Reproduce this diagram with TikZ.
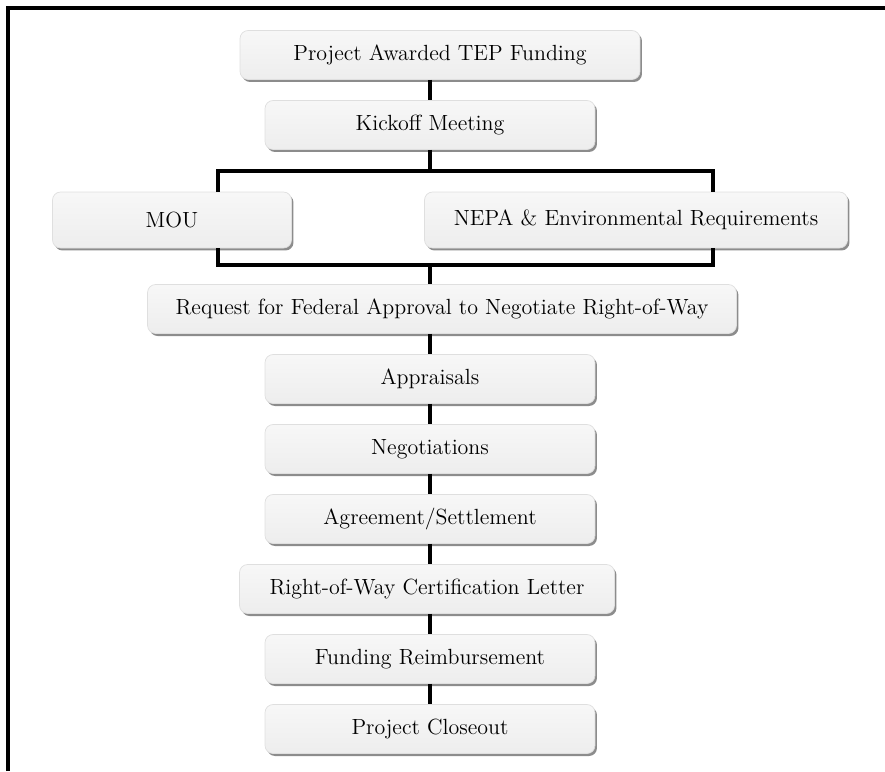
\documentclass[tikz,border=0pt]{standalone}
\usepackage{amsmath}
\usetikzlibrary{shadows}

\tikzset{
  stage/.style={rounded corners=0.16cm, draw=gray!25, line width=0.4pt,
    top color=gray!6, bottom color=gray!14,
    drop shadow={shadow xshift=0.04cm, shadow yshift=-0.05cm, fill=black!45, opacity=1},
    minimum height=0.98cm, inner sep=2pt, font=\fontsize{12.5}{14}\selectfont},
  link/.style={line width=0.065cm}
}

\begin{document}
\begin{tikzpicture}[x=0.02cm,y=-0.02cm]
    \useasboundingbox (0,0) rectangle (885,771);
    \draw[line width=0.08cm] (8,771) -- (8,8) -- (885,8);

    \node[stage, minimum width=8cm] (award) at (440,55) {Project Awarded TEP Funding};
    \node[stage, minimum width=6.6cm] (kick) at (430,125) {Kickoff Meeting};
    \node[stage, minimum width=4.78cm, minimum height=1.12cm] (mou) at (172,220) {MOU};
    \node[stage, minimum width=8.46cm, minimum height=1.12cm] (nepa) at (636,220) {NEPA \& Environmental Requirements};
    \node[stage, minimum width=11.78cm] (req) at (442,309) {Request for Federal Approval to Negotiate Right-of-Way};
    \node[stage, minimum width=6.6cm] (appr) at (430,379) {Appraisals};
    \node[stage, minimum width=6.6cm] (nego) at (430,449) {Negotiations};
    \node[stage, minimum width=6.6cm] (agree) at (430,519) {Agreement/Settlement};
    \node[stage, minimum width=7.5cm] (cert) at (427,589) {Right-of-Way Certification Letter};
    \node[stage, minimum width=6.6cm] (fund) at (430,659) {Funding Reimbursement};
    \node[stage, minimum width=6.6cm] (close) at (430,729) {Project Closeout};

    % split and join around MOU / NEPA
    \coordinate (tl) at (218,171);
    \coordinate (tr) at (713,171);
    \coordinate (bl) at (218,265);
    \coordinate (br) at (713,265);

    \draw[link] (kick.south |- award.south) -- (kick.north);
    \draw[link] (kick.south) -- (kick.south |- tl);
    \draw[link] (tl |- mou.north) -- (tl) -- (tr) -- (tr |- nepa.north);
    \draw[link] (bl |- mou.south) -- (bl) -- (br) -- (br |- nepa.south);
    \draw[link] (kick.south |- bl) -- (kick.south |- req.north);
    \draw[link] (kick.south |- req.south) -- (appr.north);
    \draw[link] (appr) -- (nego);
    \draw[link] (nego) -- (agree);
    \draw[link] (agree.south) -- (agree.south |- cert.north);
    \draw[link] (agree.south |- cert.south) -- (fund.north);
    \draw[link] (fund) -- (close);
\end{tikzpicture}
\end{document}
